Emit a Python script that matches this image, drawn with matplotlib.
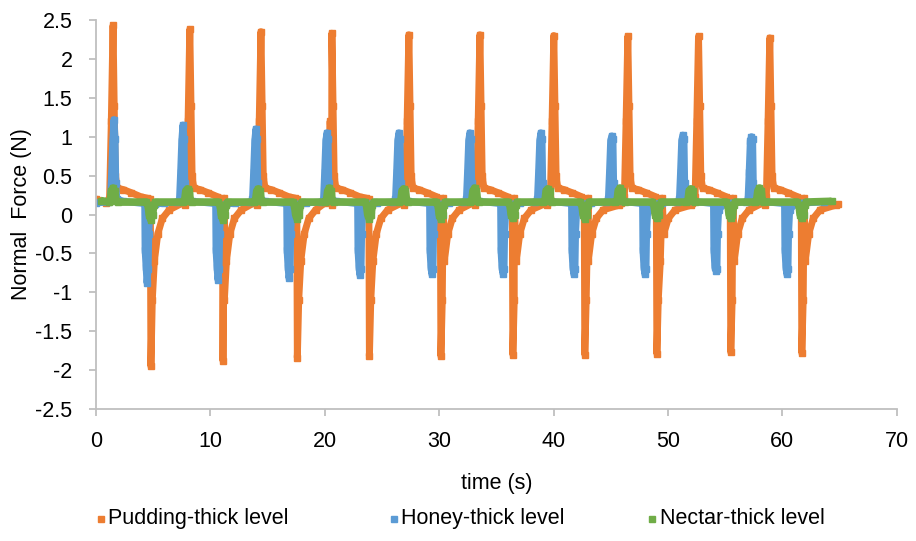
import numpy as np
import matplotlib.pyplot as plt
from matplotlib.lines import Line2D

plt.rcParams['font.family'] = ['Liberation Sans', 'DejaVu Sans']

# Peak / trough positions and values read for each of the 10 cycles
pudding_peak_t = [1.49, 8.2, 14.42, 20.62, 27.35, 33.56, 40.02, 46.49, 52.67, 58.9]
pudding_peak_v = [2.43, 2.38, 2.35, 2.33, 2.31, 2.31, 2.30, 2.29, 2.29, 2.27]
pudding_trough_t = [4.8, 11.1, 17.6, 23.9, 30.15, 36.44, 42.73, 49.03, 55.49, 61.7]
pudding_trough_v = [-1.95, -1.88, -1.84, -1.82, -1.82, -1.80, -1.80, -1.79, -1.77, -1.78]

honey_peak_t = [1.57, 7.6, 13.98, 20.19, 26.48, 32.68, 38.89, 45.09, 51.3, 57.3]
honey_peak_v = [1.22, 1.15, 1.10, 1.05, 1.05, 1.05, 1.05, 1.01, 1.02, 1.00]
honey_trough_t = [4.46, 10.66, 16.87, 23.07, 29.36, 35.57, 41.77, 47.98, 54.18, 60.39]
honey_trough_v = [-0.88, -0.84, -0.82, -0.78, -0.77, -0.76, -0.77, -0.77, -0.72, -0.77]

nectar_peak_t = [1.5, 8.0, 14.2, 20.4, 26.9, 33.1, 39.5, 45.8, 52.0, 58.0]
nectar_peak_v = [0.34, 0.33, 0.33, 0.34, 0.33, 0.34, 0.33, 0.34, 0.33, 0.34]
nectar_trough_t = [4.8, 11.1, 17.6, 23.9, 30.15, 36.44, 42.73, 49.03, 55.49, 61.7]
nectar_trough_v = [-0.07, -0.07, -0.06, -0.06, -0.06, -0.05, -0.06, -0.05, -0.05, -0.05]

# shape of the curve around each spike: (offset in s, force in N); None = the spike value
pudding_up = [(-0.6, 0.15), (-0.3, 0.22), (-0.15, 1.2), (0.0, None), (0.1, 1.4),
              (0.2, 0.5), (0.35, 0.34), (0.9, 0.32), (1.6, 0.28), (2.4, 0.23), (3.0, 0.21)]
pudding_down = [(-0.05, 0.2), (0.0, None), (0.12, -1.1), (0.3, -0.6), (0.6, -0.25),
                (1.0, -0.05), (1.6, 0.06), (3.0, 0.12)]
honey_up = [(-0.5, 0.16), (-0.3, 0.2), (-0.2, 0.55), (-0.1, 0.95), (0.0, None),
            (0.1, 0.97), (0.16, 0.4), (0.25, 0.2), (0.8, 0.17)]
honey_down = [(-0.2, 0.14), (-0.17, -0.45), (-0.08, -0.68), (0.0, None), (0.1, -0.7),
              (0.15, -0.25), (0.25, 0.06), (0.7, 0.13), (1.5, 0.15)]
nectar_up = [(-0.4, 0.16), (-0.25, 0.18), (-0.15, 0.3), (0.0, None), (0.15, 0.3),
             (0.25, 0.18), (0.4, 0.16)]
nectar_down = [(-0.4, 0.16), (-0.25, 0.12), (-0.15, 0.0), (0.0, None), (0.15, 0.0),
               (0.25, 0.12), (0.4, 0.16)]

pudding_ends = [(0.0, 0.2), (64.9, 0.13)]
honey_ends = [(0.0, 0.15), (63.6, 0.16)]
nectar_ends = [(0.4, 0.18), (64.3, 0.17)]


def build(peak_t, peak_v, trough_t, trough_v, up, down, ends):
    pts = [ends[0]]
    for tp, vp, tt, vt in zip(peak_t, peak_v, trough_t, trough_v):
        for dt, v in up:
            pts.append((tp + dt, vp if v is None else v))
        for dt, v in down:
            pts.append((tt + dt, vt if v is None else v))
    pts.append(ends[1])
    pts = [p for p in pts if p[0] <= ends[1][0]]
    pts.sort(key=lambda p: p[0])
    t, f = zip(*pts)
    return np.array(t), np.array(f)


series = [
    ("Pudding-thick level", "#ED7D31", 5.0,
     build(pudding_peak_t, pudding_peak_v, pudding_trough_t, pudding_trough_v,
           pudding_up, pudding_down, pudding_ends)),
    ("Honey-thick level", "#5B9BD5", 5.0,
     build(honey_peak_t, honey_peak_v, honey_trough_t, honey_trough_v,
           honey_up, honey_down, honey_ends)),
    ("Nectar-thick level", "#70AD47", 5.5,
     build(nectar_peak_t, nectar_peak_v, nectar_trough_t, nectar_trough_v,
           nectar_up, nectar_down, nectar_ends)),
]

fig = plt.figure(figsize=(9.16, 5.41), dpi=100)
ax = fig.add_axes([0.1048, 0.244, 0.8742, 0.719])

for name, col, lw, (t, f) in series:
    ax.plot(t, f, color=col, lw=lw, marker='s', ms=5, mec=col,
            solid_joinstyle='round', solid_capstyle='butt')

ax.set_xlim(0, 70)
ax.set_ylim(-2.5, 2.5)
ax.set_xticks(np.arange(0, 71, 10))
ax.set_yticks(np.arange(-2.5, 2.51, 0.5))
ax.set_yticklabels([f"{v:g}" for v in np.arange(-2.5, 2.51, 0.5)])
for s in ['top', 'right']:
    ax.spines[s].set_visible(False)
for s in ['left', 'bottom']:
    ax.spines[s].set_color('#bfbfbf')
    ax.spines[s].set_linewidth(1.3)
ax.tick_params(colors='#bfbfbf', labelcolor='black', labelsize=15.5, length=5, width=1.3)
ax.tick_params(axis='x', pad=11)
ax.tick_params(axis='y', pad=12)

ax.set_xlabel("time (s)", fontsize=15.5, labelpad=15)
ax.set_ylabel("Normal  Force (N)", fontsize=15.5, labelpad=2)

# legend entries placed one by one
legend_x = [0.110, 0.430, 0.712]
for (name, col, _, _), lx in zip(series, legend_x):
    fig.add_artist(Line2D([lx], [0.041], color=col, marker='s', ls='none', ms=4,
                          transform=fig.transFigure))
    fig.text(lx + 0.008, 0.041, name, fontsize=15.5, va='center', ha='left')

fig.savefig("out.png", dpi=100)
